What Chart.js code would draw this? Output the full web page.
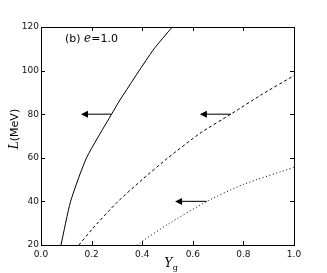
<!DOCTYPE html>
<html>
<head>
<meta charset="utf-8">
<script src="https://cdn.jsdelivr.net/npm/chart.js@4"></script>
<style>
html, body { margin: 0; padding: 0; background: #fff; }
#wrap { width: 327px; height: 273px; }
</style>
</head>
<body>
<div id="wrap"><canvas id="mycanvas"></canvas></div>
<script>
// curves (Yg, L in MeV)
var solidYg = [0.079, 0.117, 0.18, 0.279, 0.312, 0.443, 0.519];
var solidL  = [20, 40, 60, 80, 86.5, 109.4, 120];

var dashYg = [0.15, 0.2, 0.3, 0.4, 0.5, 0.628, 0.75, 0.875, 1.0];
var dashL  = [20, 27, 39.5, 50, 59.8, 71.2, 80, 89.2, 97.7];

var dotYg = [0.378, 0.5, 0.655, 0.8, 1.0];
var dotL  = [20, 29.4, 40, 47.8, 55.6];

// arrows: from (Yg, L) to tip Yg
var arrowFrom = [0.279, 0.751, 0.655];
var arrowTo   = [0.158, 0.628, 0.53];
var arrowL    = [80, 80, 40];

var xTicks = [0.0, 0.2, 0.4, 0.6, 0.8, 1.0];
var yTicks = [20, 40, 60, 80, 100, 120];

function pts(xs, ys) {
	var out = [];
	for (var i in xs) {
		out.push({x: xs[i], y: ys[i]});
	}
	return out;
}

var frame = {
	id: 'frame',
	afterDatasetsDraw: function(chart) {
		var ctx = chart.ctx;
		var a = chart.chartArea;
		var xs = chart.scales.x, ys = chart.scales.y;
		ctx.save();
		// arrows
		ctx.strokeStyle = '#222';
		ctx.fillStyle = '#000';
		ctx.lineWidth = 1.2;
		for (var i in arrowFrom) {
			var x0 = xs.getPixelForValue(arrowFrom[i]);
			var x1 = xs.getPixelForValue(arrowTo[i]);
			var y = ys.getPixelForValue(arrowL[i]);
			ctx.beginPath();
			ctx.moveTo(x0, y);
			ctx.lineTo(x1 + 5, y);
			ctx.stroke();
			ctx.beginPath();
			ctx.moveTo(x1, y);
			ctx.lineTo(x1 + 7, y - 3.5);
			ctx.lineTo(x1 + 7, y + 3.5);
			ctx.closePath();
			ctx.fill();
		}
		// box and inward ticks
		ctx.strokeStyle = '#000';
		ctx.lineWidth = 1;
		ctx.strokeRect(a.left + 0.5, a.top + 0.5, a.right - a.left, a.bottom - a.top);
		ctx.beginPath();
		for (var j in xTicks) {
			var px = Math.round(xs.getPixelForValue(xTicks[j])) + 0.5;
			ctx.moveTo(px, a.bottom);
			ctx.lineTo(px, a.bottom - 4);
			ctx.moveTo(px, a.top);
			ctx.lineTo(px, a.top + 4);
		}
		for (var k in yTicks) {
			var py = Math.round(ys.getPixelForValue(yTicks[k])) + 0.5;
			ctx.moveTo(a.left, py);
			ctx.lineTo(a.left + 4, py);
			ctx.moveTo(a.right, py);
			ctx.lineTo(a.right - 4, py);
		}
		ctx.stroke();

		// panel label
		ctx.fillStyle = '#000';
		ctx.textBaseline = 'alphabetic';
		ctx.font = '11px "DejaVu Sans"';
		var lx = a.left + 24, ly = a.top + 15;
		ctx.fillText('(b) ', lx, ly);
		lx += ctx.measureText('(b) ').width;
		ctx.font = 'italic 12px "DejaVu Serif"';
		ctx.fillText('e', lx, ly);
		lx += ctx.measureText('e').width;
		ctx.font = '11px "DejaVu Sans"';
		ctx.fillText('=1.0', lx, ly);

		// x title
		ctx.font = 'italic 12px "DejaVu Serif"';
		var tx = (a.left + a.right) / 2 - 3;
		ctx.fillText('Y', tx, 267);
		ctx.font = '8px "DejaVu Serif"';
		ctx.fillText('g', tx + ctx.measureText('Y').width + 3, 270);

		// y title
		ctx.translate(18, (a.top + a.bottom) / 2 - 7);
		ctx.rotate(-Math.PI / 2);
		ctx.textAlign = 'left';
		ctx.font = 'italic 12px "DejaVu Serif"';
		var w1 = ctx.measureText('L').width;
		ctx.font = '11px "DejaVu Sans"';
		var w2 = ctx.measureText('(MeV)').width;
		var sx = -(w1 + w2) / 2;
		ctx.font = 'italic 12px "DejaVu Serif"';
		ctx.fillText('L', sx, 0);
		ctx.font = '11px "DejaVu Sans"';
		ctx.fillText('(MeV)', sx + w1, 0);
		ctx.restore();
	}
};

var chartdata = {
	datasets: [
		{
			label: 'solid',
			data: pts(solidYg, solidL),
			showLine: true,
			borderColor: '#000',
			borderWidth: 1,
			pointRadius: 0,
			tension: 0.2
		},
		{
			label: 'dashed',
			data: pts(dashYg, dashL),
			showLine: true,
			borderColor: '#000',
			borderWidth: 1,
			borderDash: [3, 2.5],
			pointRadius: 0,
			tension: 0.2
		},
		{
			label: 'dotted',
			data: pts(dotYg, dotL),
			showLine: true,
			borderColor: '#000',
			borderWidth: 1,
			borderDash: [1, 2.5],
			pointRadius: 0,
			tension: 0.2
		}
	]
};

var ctx = document.getElementById('mycanvas');

var LineGraph = new Chart(ctx, {
	type: 'scatter',
	data: chartdata,
	plugins: [frame],
	options: {
		responsive: true,
		maintainAspectRatio: false,
		animation: false,
		layout: { padding: { left: 0, right: 33, top: 27, bottom: 0 } },
		plugins: { legend: { display: false }, tooltip: { enabled: false } },
		scales: {
			x: {
				type: 'linear',
				min: 0, max: 1,
				afterBuildTicks: function(axis) {
					axis.ticks = xTicks.map(function(v) { return {value: v}; });
				},
				afterFit: function(axis) { axis.height = 28; },
				grid: { display: false, drawTicks: false },
				border: { display: false },
				ticks: {
					padding: 4,
					color: '#111',
					font: { family: 'DejaVu Sans', size: 9 },
					maxRotation: 0,
					callback: function(v) { return v.toFixed(1); }
				}
			},
			y: {
				type: 'linear',
				min: 20, max: 120,
				afterBuildTicks: function(axis) {
					axis.ticks = yTicks.map(function(v) { return {value: v}; });
				},
				afterFit: function(axis) { axis.width = 41; },
				grid: { display: false, drawTicks: false },
				border: { display: false },
				ticks: {
					padding: 2,
					color: '#111',
					font: { family: 'DejaVu Sans', size: 9 }
				}
			}
		}
	}
});
</script>
</body>
</html>
